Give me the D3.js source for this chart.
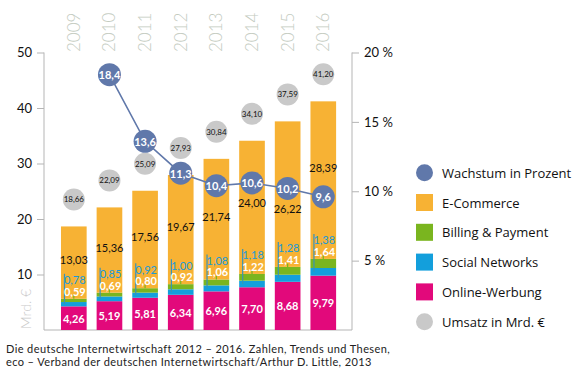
<!DOCTYPE html>
<html>
<head>
<meta charset="utf-8">
<script src="https://cdnjs.cloudflare.com/ajax/libs/d3/7.8.5/d3.min.js"></script>
<style>
    body { margin: 0; background: #fff; }
    svg { display: block; font-family: Lato, 'Open Sans', sans-serif; }
</style>
</head>
<body>
<div id="chart"></div>
<script>
var years = ['2009', '2010', '2011', '2012', '2013', '2014', '2015', '2016'];
var onlineWerbung = [4.26, 5.19, 5.81, 6.34, 6.96, 7.70, 8.68, 9.79];
var socialNetworks = [0.78, 0.85, 0.92, 1.00, 1.08, 1.18, 1.28, 1.38];
var billingPayment = [0.59, 0.69, 0.80, 0.92, 1.06, 1.22, 1.41, 1.64];
var eCommerce = [13.03, 15.36, 17.56, 19.67, 21.74, 24.00, 26.22, 28.39];
var umsatz = [18.66, 22.09, 25.09, 27.93, 30.84, 34.10, 37.59, 41.20];
var wachstum = [null, 18.4, 13.6, 11.3, 10.4, 10.6, 10.2, 9.6];
var leftTicks = [10, 20, 30, 40, 50];
var rightTicks = [5, 10, 15, 20];

var colors = {
    online: '#e2097b',
    social: '#139fdc',
    billing: '#7ab51f',
    ecommerce: '#f7b234',
    growth: '#6078aa',
    umsatz: '#c9c9c9'
};

var width = 588;
var height = 374;

var svg = d3.select('#chart').append('svg')
    .attr('width', width)
    .attr('height', height);

var x = d3.scaleBand()
    .domain(years)
    .range([56, 341.1])
    .paddingInner(0.28)
    .paddingOuter(0.14);

var y = d3.scaleLinear().domain([0, 50]).range([330, 52.5]);
var yPct = d3.scaleLinear().domain([0, 20]).range([330, 52.5]);

var fmt2 = function (v) { return d3.format('.2f')(v).replace('.', ','); };
var fmt1 = function (v) { return d3.format('.1f')(v).replace('.', ','); };

var rows = years.map(function (yr, i) {
    return {
        year: yr,
        online: onlineWerbung[i],
        social: socialNetworks[i],
        billing: billingPayment[i],
        ecommerce: eCommerce[i],
        umsatz: umsatz[i],
        growth: wachstum[i]
    };
});

// axes
var axisColor = '#b5b5b5';

var leftAxis = svg.append('g')
    .attr('transform', 'translate(44,0)')
    .call(d3.axisLeft(y).tickValues(leftTicks).tickSize(7).tickPadding(5));

var rightAxis = svg.append('g')
    .attr('transform', 'translate(352,0)')
    .call(d3.axisRight(yPct).tickValues(rightTicks).tickSize(7).tickPadding(5)
        .tickFormat(function (d) { return d + ' %'; }));

[leftAxis, rightAxis].forEach(function (a) {
    a.select('.domain').attr('stroke', axisColor).attr('d', 'M0,52.5V330');
    a.selectAll('.tick line').attr('stroke', axisColor);
    a.selectAll('.tick text')
        .attr('fill', '#111')
        .style('font-size', '13px')
        .style('font-family', 'Lato, sans-serif');
});

svg.append('line')
    .attr('x1', 44).attr('x2', 352)
    .attr('y1', 330).attr('y2', 330)
    .attr('stroke', axisColor);

svg.append('text')
    .attr('transform', 'translate(31,329) rotate(-90)')
    .attr('fill', '#cacaca')
    .style('font-size', '14px')
    .style('font-weight', 300)
    .text('Mrd. €');

// year labels on top
svg.append('g').selectAll('text')
    .data(years)
    .enter()
    .append('text')
    .attr('transform', function (d) {
        return 'translate(' + (x(d) + x.bandwidth() / 2 + 6) + ',52) rotate(-90)';
    })
    .attr('fill', '#c4cbbf')
    .style('font-size', '17px')
    .style('font-weight', 300)
    .text(function (d) { return d; });

// stacked bars
var keys = ['online', 'social', 'billing', 'ecommerce'];
var series = d3.stack().keys(keys)(rows);

svg.append('g').selectAll('g')
    .data(series)
    .enter()
    .append('g')
    .attr('fill', function (d) { return colors[d.key]; })
    .selectAll('rect')
    .data(function (d) { return d; })
    .enter()
    .append('rect')
    .attr('x', function (d) { return x(d.data.year); })
    .attr('width', x.bandwidth())
    .attr('y', function (d) { return y(d[1]); })
    .attr('height', function (d) { return y(d[0]) - y(d[1]); });

var cx = function (d) { return x(d.year) + x.bandwidth() / 2; };

// labels inside bars
var labels = svg.append('g').style('font-size', '11px');

rows.forEach(function (d) {
    var xc = cx(d);
    var onlineTop = y(d.online);
    var socialTop = y(d.online + d.social);
    var greenTop = y(d.online + d.social + d.billing);
    var barTop = y(d.online + d.social + d.billing + d.ecommerce);

    labels.append('text')
        .attr('x', xc).attr('y', (onlineTop + y(0)) / 2)
        .attr('text-anchor', 'middle').attr('dominant-baseline', 'central')
        .attr('fill', '#fff').style('font-weight', 700)
        .text(fmt2(d.online));

    // leader lines
    labels.append('line')
        .attr('x1', x(d.year) + 3.5).attr('x2', x(d.year) + 3.5)
        .attr('y1', greenTop - 25).attr('y2', (onlineTop + socialTop) / 2)
        .attr('stroke', '#3a93b3').attr('stroke-width', 1.2);
    labels.append('line')
        .attr('x1', xc).attr('x2', xc)
        .attr('y1', greenTop - 3.5).attr('y2', greenTop)
        .attr('stroke', colors.billing).attr('stroke-width', 1.2);

    labels.append('text')
        .attr('x', xc + 1).attr('y', greenTop - 19)
        .attr('text-anchor', 'middle').attr('dominant-baseline', 'central')
        .attr('fill', '#1a9ad8')
        .text(fmt2(d.social));

    labels.append('text')
        .attr('x', xc + 1).attr('y', greenTop - 7.5)
        .attr('text-anchor', 'middle').attr('dominant-baseline', 'central')
        .attr('fill', '#fff').style('font-weight', 700)
        .text(fmt2(d.billing));

    // keep the e-commerce value clear of the growth bubble
    var ecY = (barTop + greenTop) / 2 - 3;
    if (d.growth !== null) {
        var gy = yPct(d.growth);
        if (Math.abs(ecY - gy) < 22) {
            ecY = ecY > gy ? gy + 20 : gy - 29;
        }
    }
    labels.append('text')
        .attr('x', xc).attr('y', ecY)
        .attr('text-anchor', 'middle').attr('dominant-baseline', 'central')
        .attr('fill', '#111')
        .text(fmt2(d.ecommerce));
});

// Umsatz circles
var umsatzG = svg.append('g').selectAll('g')
    .data(rows)
    .enter()
    .append('g')
    .attr('transform', function (d) { return 'translate(' + cx(d) + ',' + (y(d.umsatz) - 27) + ')'; });

umsatzG.append('circle')
    .attr('r', 11)
    .attr('fill', colors.umsatz);

umsatzG.append('text')
    .attr('text-anchor', 'middle')
    .attr('dominant-baseline', 'central')
    .attr('fill', '#111')
    .style('font-size', '8px')
    .text(function (d) { return fmt2(d.umsatz); });

// growth line
var growthRows = rows.filter(function (d) { return d.growth !== null; });

svg.append('path')
    .datum(growthRows)
    .attr('fill', 'none')
    .attr('stroke', colors.growth)
    .attr('stroke-width', 1.6)
    .attr('d', d3.line()
        .x(cx)
        .y(function (d) { return yPct(d.growth); }));

var growthG = svg.append('g').selectAll('g')
    .data(growthRows)
    .enter()
    .append('g')
    .attr('transform', function (d) { return 'translate(' + cx(d) + ',' + yPct(d.growth) + ')'; });

growthG.append('circle')
    .attr('r', 11.5)
    .attr('fill', colors.growth);

growthG.append('text')
    .attr('text-anchor', 'middle')
    .attr('dominant-baseline', 'central')
    .attr('fill', '#fff')
    .style('font-size', '11px')
    .style('font-weight', 700)
    .text(function (d) { return fmt1(d.growth); });

// legend
var legendItems = [
    { label: 'Wachstum in Prozent', color: colors.growth, round: true },
    { label: 'E-Commerce', color: colors.ecommerce },
    { label: 'Billing & Payment', color: colors.billing },
    { label: 'Social Networks', color: colors.social },
    { label: 'Online-Werbung', color: colors.online },
    { label: 'Umsatz in Mrd. €', color: colors.umsatz, round: true }
];

var legend = svg.append('g').selectAll('g')
    .data(legendItems)
    .enter()
    .append('g')
    .attr('transform', function (d, i) { return 'translate(416,' + (172.7 + i * 29.8) + ')'; });

legend.append('rect')
    .attr('x', 0).attr('y', -8.5)
    .attr('width', 17).attr('height', 17)
    .attr('rx', function (d) { return d.round ? 8.5 : 0; })
    .attr('fill', function (d) { return d.color; });

legend.append('text')
    .attr('x', 26)
    .attr('dominant-baseline', 'central')
    .attr('fill', '#111')
    .style('font-family', "'Open Sans', sans-serif")
    .style('font-size', '13px')
    .text(function (d) { return d.label; });

// source
var source = svg.append('text')
    .attr('fill', '#222')
    .style('font-size', '11px')
    .style('letter-spacing', '0.4px');
source.append('tspan').attr('x', 6).attr('y', 352.5)
    .text('Die deutsche Internetwirtschaft 2012 – 2016. Zahlen, Trends und Thesen,');
source.append('tspan').attr('x', 6).attr('y', 365.8)
    .text('eco – Verband der deutschen Internetwirtschaft/Arthur D. Little, 2013');
</script>
</body>
</html>
